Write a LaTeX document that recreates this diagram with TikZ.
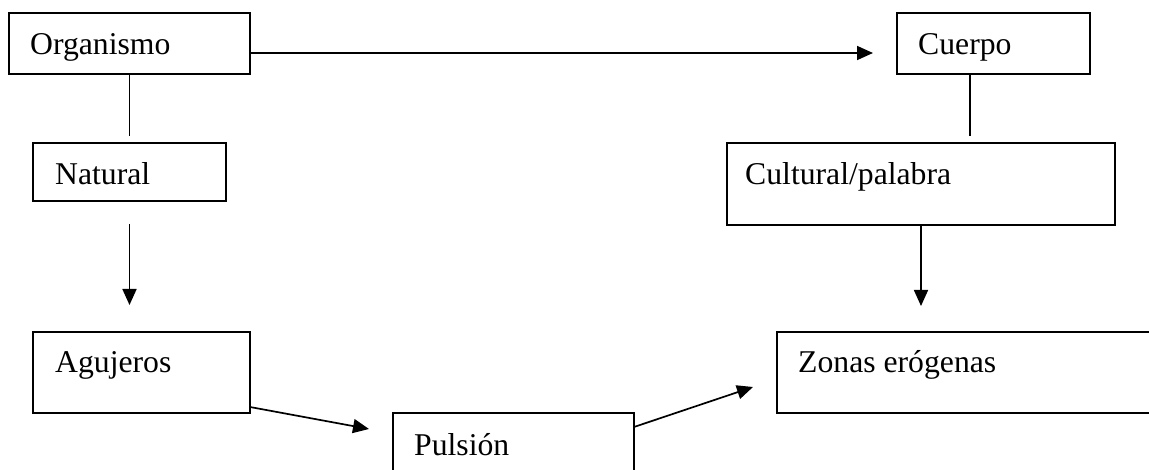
\documentclass[tikz,border=0pt]{standalone}
\usepackage{fontspec}
\setmainfont{Liberation Serif}
\usetikzlibrary{arrows.meta,calc}
\begin{document}
\begin{tikzpicture}[x=1pt,y=-1pt,
  box/.style={draw=black,line width=1.6pt,rectangle,inner sep=0pt,outer sep=0pt,anchor=north west},
  lbl/.style={anchor=base west,inner sep=0pt,font=\fontsize{31.7}{38}\selectfont},
  conn/.style={draw=black,line width=1.7pt},
  arr/.style={conn,-{Triangle[length=16pt,width=14pt]}}]
\useasboundingbox (0,0) rectangle (1149,470);
\fill[white] (0,0) rectangle (1149,470);
\begin{scope}
\clip (0,0) rectangle (1149,470);
\node[box,minimum width=241pt,minimum height=61pt] (org) at (9,13) {};
\node[box,minimum width=193pt,minimum height=61pt] (cue) at (897,13) {};
\node[box,minimum width=193pt,minimum height=58pt] (nat) at (33,143) {};
\node[box,minimum width=388pt,minimum height=82pt] (cul) at (727,143) {};
\node[box,minimum width=217pt,minimum height=81pt] (agu) at (33,332) {};
\node[box,minimum width=400pt,minimum height=81pt] (zon) at (777,332) {};
\node[box,minimum width=241pt,minimum height=80pt] (pul) at (393,413) {};

\node[lbl] (orgt) at (30,55) {Organismo};
\node[lbl] (cuet) at (918,55) {Cuerpo};
\node[lbl] (natt) at (55,185) {Natural};
\node[lbl] (cult) at (745,185) {Cultural/palabra};
\node[lbl] (agut) at (55,373) {Agujeros};
\node[lbl] (zont) at (798,373) {Zonas erógenas};
\node[lbl] (pult) at (414,455) {Pulsión};

\draw[arr] ($(org.east)+(0,9.5)$) -- ($(cue.west)+(-24,9.5)$);
\draw[conn,shorten >=7pt] (org.south) -- (org.south |- nat.north);
\draw[conn,shorten >=7pt] ($(cue.south west)+(73,0)$) coordinate (c1) -- (c1 |- cul.north);
\draw[arr,shorten <=23pt,shorten >=27pt] (nat.south) -- (nat.south |- agu.north);
\draw[arr,shorten >=26pt] (cul.south) -- (cul.south |- zon.north);
\draw[arr] ($(agu.south east)+(0,-6)$) -- ($(pul.north west)+(-24,16)$);
\draw[arr] ($(pul.north east)+(0,14)$) -- ($(zon.south west)+(-24,-26)$);
\end{scope}
\end{tikzpicture}
\end{document}
